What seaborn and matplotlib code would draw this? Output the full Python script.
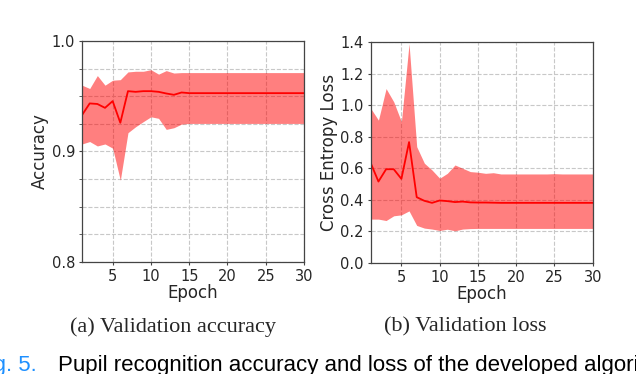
import matplotlib
matplotlib.use("Agg")
import matplotlib.pyplot as plt
import seaborn as sns
import pandas as pd
from matplotlib.ticker import MultipleLocator

# epochs 1..30
epochs = list(range(1, 31))

# validation accuracy: mean and band
acc_mean = [0.933, 0.9435, 0.943, 0.9395, 0.9456, 0.926, 0.9546, 0.954, 0.9546, 0.9546,
            0.954, 0.9525, 0.9513, 0.9534, 0.9528, 0.9528, 0.9528, 0.9528, 0.9528, 0.9528,
            0.9528, 0.9528, 0.9528, 0.9528, 0.9528, 0.9528, 0.9528, 0.9528, 0.9528, 0.9528]
acc_hi = [0.960, 0.957, 0.9687, 0.960, 0.9645, 0.965, 0.972, 0.9726, 0.9726, 0.974,
          0.970, 0.9732, 0.971, 0.9714, 0.9714, 0.9714, 0.9714, 0.9714, 0.9714, 0.9714,
          0.9714, 0.9714, 0.9714, 0.9714, 0.9714, 0.9714, 0.9714, 0.9714, 0.9714, 0.9714]
acc_lo = [0.9068, 0.909, 0.905, 0.9068, 0.903, 0.874, 0.917, 0.9224, 0.927, 0.9314,
          0.930, 0.920, 0.9215, 0.9248, 0.9254, 0.9254, 0.9254, 0.9254, 0.9254, 0.9254,
          0.9254, 0.9254, 0.9254, 0.9254, 0.9254, 0.9254, 0.9254, 0.9254, 0.9254, 0.9254]

# validation loss: mean and band
loss_mean = [0.632, 0.516, 0.594, 0.594, 0.533, 0.766, 0.417, 0.394, 0.381, 0.396,
             0.392, 0.386, 0.389, 0.384, 0.383, 0.383, 0.382, 0.381, 0.381, 0.381,
             0.381, 0.381, 0.381, 0.381, 0.381, 0.381, 0.381, 0.381, 0.381, 0.381]
loss_hi = [0.979, 0.905, 1.105, 1.021, 0.895, 1.389, 0.737, 0.632, 0.589, 0.537,
           0.568, 0.621, 0.600, 0.579, 0.575, 0.568, 0.572, 0.564, 0.564, 0.564,
           0.564, 0.564, 0.564, 0.564, 0.566, 0.564, 0.564, 0.564, 0.564, 0.564]
loss_lo = [0.278, 0.278, 0.269, 0.299, 0.305, 0.330, 0.238, 0.221, 0.215, 0.206,
           0.214, 0.204, 0.215, 0.218, 0.219, 0.219, 0.219, 0.219, 0.219, 0.219,
           0.219, 0.219, 0.219, 0.219, 0.219, 0.219, 0.219, 0.219, 0.219, 0.219]

sns.set_style("white")
plt.rcParams["font.family"] = ["DejaVu Sans"]

fig = plt.figure(figsize=(6.36, 3.74), dpi=100)
ax1 = fig.add_axes([0.129, 0.2995, 0.349, 0.5909])
ax2 = fig.add_axes([0.583, 0.2968, 0.349, 0.5909])

df_acc = pd.DataFrame({"Epoch": epochs, "val": acc_mean})
df_loss = pd.DataFrame({"Epoch": epochs, "val": loss_mean})


def style(ax):
    ax.grid(True, which="both", linestyle="--", color="#c8c8c8", linewidth=0.8)
    ax.set_axisbelow(True)
    for s in ax.spines.values():
        s.set_color("#444444")
        s.set_linewidth(0.9)
    ax.tick_params(axis="both", which="major", labelsize=10.5, direction="out",
                   length=2.5, pad=2.5, color="#444444", left=True, bottom=True)
    ax.tick_params(axis="y", which="minor", direction="out", length=2,
                   color="#444444", left=True)
    ax.set_xlim(1, 30)
    ax.xaxis.set_major_locator(MultipleLocator(5))


# (a) accuracy
ax1.fill_between(epochs, acc_lo, acc_hi, color="#ff0000", alpha=0.5, linewidth=0)
sns.lineplot(data=df_acc, x="Epoch", y="val", ax=ax1, color="red", linewidth=1.3)
ax1.set_ylim(0.8, 1.0)
ax1.yaxis.set_major_locator(MultipleLocator(0.1))
ax1.yaxis.set_minor_locator(MultipleLocator(0.025))
style(ax1)
ax1.set_xticks([5, 10, 15, 20, 25, 30])
ax1.set_ylabel("Accuracy", fontsize=12, labelpad=2)
ax1.set_xlabel("Epoch", fontsize=12, labelpad=0)

# (b) loss
ax2.fill_between(epochs, loss_lo, loss_hi, color="#ff0000", alpha=0.5, linewidth=0)
sns.lineplot(data=df_loss, x="Epoch", y="val", ax=ax2, color="red", linewidth=1.3)
ax2.set_ylim(0.0, 1.4)
ax2.yaxis.set_major_locator(MultipleLocator(0.2))
style(ax2)
ax2.set_xticks([5, 10, 15, 20, 25, 30])
ax2.set_ylabel("Cross Entropy Loss", fontsize=12, labelpad=2)
ax2.set_xlabel("Epoch", fontsize=12, labelpad=0)

# captions
fig.text(173 / 636, 1 - 327 / 374, "(a) Validation accuracy", ha="center", va="center",
         fontsize=16, family="Liberation Serif")
fig.text(465 / 636, 1 - 327 / 374, "(b) Validation loss", ha="center", va="center",
         fontsize=16, family="Liberation Serif")
fig.text(-0.039, 1 - 371 / 374, "Fig. 5.", ha="left", va="baseline",
         fontsize=16, family="Liberation Sans", color="#1e90ff")
fig.text(58 / 636, 1 - 371 / 374,
         "Pupil recognition accuracy and loss of the developed algorithm",
         ha="left", va="baseline", fontsize=16, family="Liberation Sans", color="black")

fig.savefig("out.png", dpi=100)
